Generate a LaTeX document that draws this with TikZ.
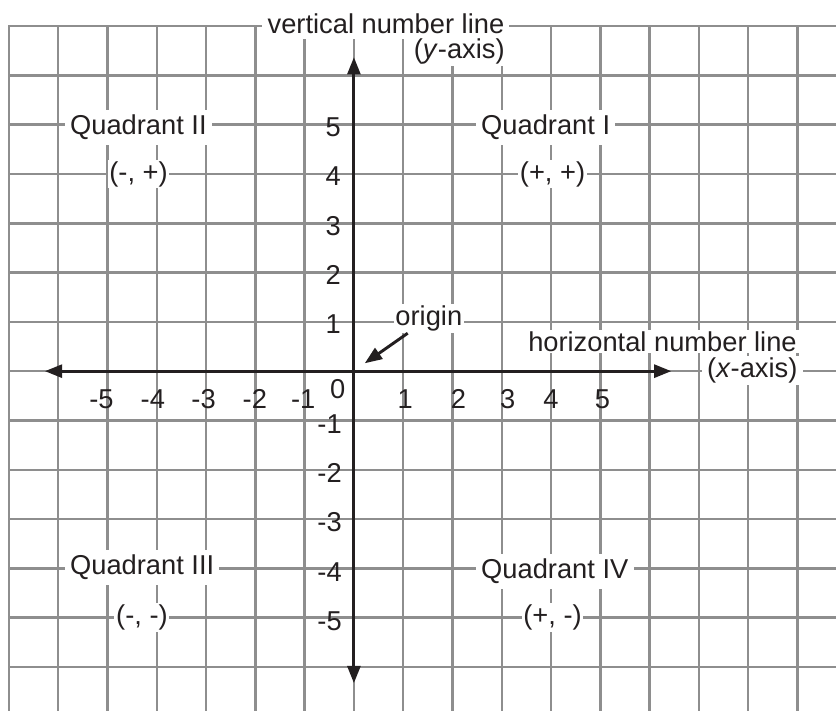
\documentclass[tikz,border=0pt]{standalone}
\usepackage{fontspec}
\setmainfont{Liberation Sans}
\usetikzlibrary{arrows.meta}
\definecolor{gridgrey}{HTML}{8E8E8E}
\definecolor{axisblack}{HTML}{231F20}

\begin{document}
\begin{tikzpicture}[
    gridline/.style={draw=gridgrey, line width=1.4pt, line cap=rect},
    axisline/.style={draw=axisblack, line width=1.7pt, {Triangle[length=10pt,width=7.5pt]}-{Triangle[length=10pt,width=7.5pt]}},
    pointer/.style={draw=axisblack, line width=1.7pt, -{Triangle[length=10pt,width=7.5pt]}},
    every node/.style={font=\fontsize{15.75}{18}\selectfont, text=axisblack},
    quadlabel/.style={fill=white, inner sep=3pt, anchor=west},
    signlabel/.style={fill=white, inner sep=1pt},
    ticklabel/.style={inner sep=0pt}
  ]
    \useasboundingbox (-7.18,-6.88) rectangle (9.78,7.53);
    \clip (-7.18,-6.88) rectangle (9.78,7.53);

    % grid
    \foreach \x in {-7,...,9}
      \draw[gridline] (\x,7) -- (\x,-7);
    \foreach \y in {-6,...,7}
      \draw[gridline] (-7,\y) -- (10,\y);

    % axes
    \coordinate (xleft) at (-6.27,0);
    \coordinate (xright) at (6.44,0);
    \coordinate (ytop) at (0,6.37);
    \coordinate (ybottom) at (0,-6.33);
    \draw[axisline] (xleft) -- (xright);
    \draw[axisline] (ybottom) -- (ytop);

    % numbers
    \foreach \n/\xpos in {-5/-5.12,-4/-4.08,-3/-3.05,-2/-2.01,-1/-1.03,1/1.04,2/2.12,3/3.12,4/4.0,5/5.04}
      \node[ticklabel] (xt\n) at (\xpos,-0.57) {\n};
    \foreach \n in {1,...,5}
      \node[ticklabel, anchor=east] (yt\n) at (-0.26,\n-0.05) {\n};
    \foreach \n in {-1,...,-5}
      \node[ticklabel, anchor=east] (yt\n) at (-0.24,\n-0.07) {\n};
    \node[ticklabel] (zero) at (-0.33,-0.37) {0};

    % axis names
    \node[fill=white, inner xsep=3pt, inner ysep=3pt] (vertname) at (0.65,7.04) {vertical number line};
    \node[fill=white, inner sep=1pt, anchor=east] (yname) at (3.10,6.48) {(\textit{y}-axis)};
    \node[fill=white, inner xsep=2pt, inner ysep=1pt] (horname) at (6.26,0.6) {horizontal number line};
    \node[fill=white, inner xsep=3pt, inner ysep=1pt, anchor=east] (xname) at (9.11,0.01) {(\textit{x}-axis)};

    % origin
    \node[signlabel] (origin) at (1.52,1.07) {origin};
    \coordinate (otip) at (0.22,0.16);
    \draw[pointer] (origin) -- (otip);

    % quadrants
    \node[quadlabel] (qtwo) at (-5.87,4.94) {Quadrant II};
    \node[signlabel] (stwo) at (-4.37,4.0) {(-, +)};
    \node[quadlabel] (qone) at (2.47,4.94) {Quadrant I};
    \node[signlabel] (sone) at (4.03,4.0) {(+, +)};
    \node[quadlabel] (qthree) at (-5.87,-3.98) {Quadrant III};
    \node[signlabel] (sthree) at (-4.30,-5.0) {(-, -)};
    \node[quadlabel] (qfour) at (2.47,-4.06) {Quadrant IV};
    \node[signlabel] (sfour) at (4.03,-5.0) {(+, -)};
  \end{tikzpicture}
\end{document}
